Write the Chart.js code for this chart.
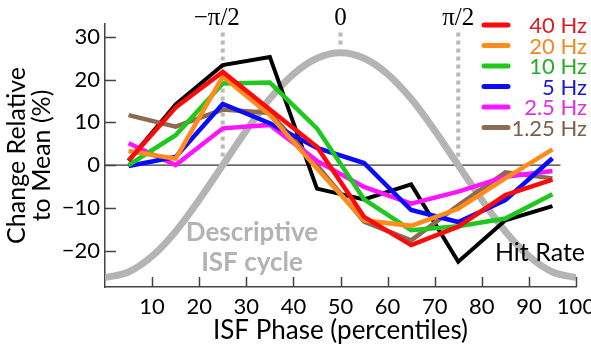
<!DOCTYPE html>
<html>
<head>
<meta charset="utf-8">
<script src="https://cdn.jsdelivr.net/npm/chart.js@4.4.1/dist/chart.umd.min.js"></script>
<style>
  html, body { margin: 0; padding: 0; background: #fff; }
  #wrap { width: 591px; height: 350px; position: relative; }
</style>
</head>
<body>
<div id="wrap"><canvas id="myChart"></canvas></div>
<script>
// ISF phase bins (percentiles)
const phase = [5, 15, 25, 35, 45, 55, 65, 75, 85, 95];

const freqLabels = ["40 Hz", "20 Hz", "10 Hz", "5 Hz", "2.5 Hz", "1.25 Hz"];
const hz40 = [1, 13.5, 21.8, 13, 4.3, -12.1, -18.7, -14.4, -7, -3.4];
const hz20 = [3.3, 1.5, 20.7, 11.7, -0.8, -12.9, -14.2, -10.2, -3.1, 3.7];
const hz10 = [0, 7, 19.1, 19.3, 8.6, -8, -15.2, -14.3, -12.5, -6.8];
const hz5 = [-0.2, 1.9, 14.3, 9.8, 4, 0.5, -10.5, -13.3, -8.2, 1.6];
const hz2_5 = [5.1, 0, 8.6, 9.4, 1, -5.1, -9, -6.2, -2.7, -1.4];
const hz1_25 = [11.7, 9, 13, 12.2, 0, -13.2, -17.6, -9.4, -1.7, -3.1];
const hitRate = [1, 14.2, 23.4, 25.3, -5.5, -8, -4.5, -22.6, -12.9, -9.6];

// descriptive ISF cycle (grey curve)
const cyclePhase = [0, 5, 10, 15, 20, 25, 30, 35, 40, 45, 50, 55, 60, 65, 70, 75, 80, 85, 90, 95, 100];
const cycleValues = [-26.3, -25, -21.3, -15.5, -8.1, 0, 8.1, 15.5, 21.3, 25, 26.3, 25, 21.3, 15.5, 8.1, 0, -8.1, -15.5, -21.3, -25, -26.3];

const xTicks = [10, 20, 30, 40, 50, 60, 70, 80, 90, 100];
const yTicks = [-20, -10, 0, 10, 20, 30];
const phaseMarks = [25, 50, 75];
const phaseLabels = ["\u2212\u03c0/2", "0", "\u03c0/2"];

const lineColors = ["#ff0a0a", "#ff8c1a", "#1ec81e", "#0a0aff", "#ff14ff", "#8c6b50"];
const textColors = ["#de1a20", "#f08a22", "#26ad26", "#1a1ac8", "#e030e0", "#7d604b"];

const SANS = "Lato, 'Open Sans', sans-serif";

function pts(ys, xs) {
  return ys.map((y, i) => ({ x: xs[i], y: y }));
}

const freqSeries = [hz40, hz20, hz10, hz5, hz2_5, hz1_25];
const datasets = freqSeries.map((s, i) => ({
  label: freqLabels[i],
  data: pts(s, phase),
  borderColor: lineColors[i],
  borderWidth: 4.5,
  pointRadius: 0,
  tension: 0,
}));
datasets.push({
  label: "Hit Rate",
  data: pts(hitRate, phase),
  borderColor: "#000000",
  borderWidth: 4,
  pointRadius: 0,
  tension: 0,
});
datasets.push({
  label: "Descriptive ISF cycle",
  data: pts(cycleValues, cyclePhase),
  borderColor: "#b4b4b4",
  borderWidth: 7,
  pointRadius: 0,
  cubicInterpolationMode: "monotone",
});

const decor = {
  id: "decor",
  beforeDatasetsDraw(chart) {
    const { ctx, scales: { x, y } } = chart;
    ctx.save();
    // dotted phase markers
    ctx.strokeStyle = "#b9b9b9";
    ctx.lineWidth = 4;
    ctx.setLineDash([4, 4]);
    phaseMarks.forEach((p) => {
      const v = cycleValues[cyclePhase.indexOf(p)];
      ctx.beginPath();
      ctx.moveTo(x.getPixelForValue(p), y.getPixelForValue(31));
      ctx.lineTo(x.getPixelForValue(p), y.getPixelForValue(v) - 4);
      ctx.stroke();
    });
    ctx.setLineDash([]);
    // zero line
    ctx.strokeStyle = "#333";
    ctx.lineWidth = 1.2;
    ctx.beginPath();
    ctx.moveTo(x.getPixelForValue(0), y.getPixelForValue(0));
    ctx.lineTo(x.getPixelForValue(96.7), y.getPixelForValue(0));
    ctx.stroke();
    // phase labels
    ctx.fillStyle = "#000";
    ctx.font = "25px 'Liberation Serif', serif";
    ctx.textAlign = "center";
    ctx.textBaseline = "alphabetic";
    phaseMarks.forEach((p, i) => {
      const dx = i === 0 ? -6 : 0;
      ctx.fillText(phaseLabels[i], x.getPixelForValue(p) + dx, 25);
    });
    ctx.restore();
  },
  afterDatasetsDraw(chart) {
    const { ctx, scales: { x, y } } = chart;
    ctx.save();
    // inward tick marks
    ctx.strokeStyle = "#444";
    ctx.lineWidth = 1.5;
    ctx.beginPath();
    xTicks.forEach((t) => {
      const px = Math.round(x.getPixelForValue(t)) + 0.5;
      ctx.moveTo(px, y.bottom);
      ctx.lineTo(px, y.bottom - 10);
    });
    yTicks.forEach((t) => {
      const py = Math.round(y.getPixelForValue(t)) + 0.5;
      ctx.moveTo(x.left, py);
      ctx.lineTo(x.left + 11, py);
    });
    ctx.stroke();

    // legend
    ctx.font = "22px " + SANS;
    ctx.textAlign = "right";
    ctx.textBaseline = "middle";
    freqLabels.forEach((lab, i) => {
      const yy = 25 + i * 20.5;
      ctx.strokeStyle = lineColors[i];
      ctx.lineWidth = 5;
      ctx.lineCap = "round";
      ctx.beginPath();
      ctx.moveTo(484, yy);
      ctx.lineTo(508, yy);
      ctx.stroke();
      ctx.fillStyle = textColors[i];
      ctx.fillText(lab, 587, yy + 1);
    });

    // annotations
    ctx.textBaseline = "alphabetic";
    ctx.fillStyle = "#000";
    ctx.font = "25px " + SANS;
    ctx.fillText("Hit Rate", 585, 261);
    ctx.fillStyle = "#b3b3b3";
    ctx.font = "bold 26px " + SANS;
    ctx.textAlign = "center";
    ctx.fillText("Descriptive", 252, 241);
    ctx.fillText("ISF cycle", 252, 271);
    ctx.restore();
  },
};

const chart = new Chart(document.getElementById("myChart"), {
  type: "line",
  data: { datasets: datasets },
  plugins: [decor],
  options: {
    responsive: true,
    maintainAspectRatio: false,
    animation: false,
    events: [],
    layout: { padding: { top: 24, right: 15, left: 0, bottom: 0 } },
    plugins: {
      legend: { display: false },
      tooltip: { enabled: false },
    },
    scales: {
      x: {
        type: "linear",
        min: 0,
        max: 100,
        grid: { display: false, drawTicks: false },
        border: { display: true, color: "#444", width: 1.5 },
        afterBuildTicks: (scale) => {
          scale.ticks = xTicks.map((v) => ({ value: v }));
        },
        afterFit: (scale) => {
          scale.height = 63;
          scale.paddingLeft = 0;
          scale.paddingRight = 0;
        },
        ticks: {
          padding: 7,
          maxRotation: 0,
          autoSkip: false,
          color: "#000",
          font: { family: SANS, size: 22 },
        },
        title: {
          display: true,
          text: "ISF Phase (percentiles)",
          color: "#000",
          padding: { top: 0, bottom: 6 },
          font: { family: SANS, size: 26, lineHeight: 1 },
        },
      },
      y: {
        type: "linear",
        min: -28.5,
        max: 33,
        grid: { display: false, drawTicks: false },
        border: { display: true, color: "#444", width: 1.5 },
        afterBuildTicks: (scale) => {
          scale.ticks = yTicks.map((v) => ({ value: v }));
        },
        afterFit: (scale) => {
          scale.width = 105;
          scale.paddingTop = 0;
          scale.paddingBottom = 0;
        },
        ticks: {
          padding: 5,
          color: "#000",
          font: { family: SANS, size: 22 },
          callback: (v) => (v < 0 ? "\u2212" + Math.abs(v) : String(v)),
        },
        title: {
          display: true,
          text: ["Change Relative", "to Mean (%)"],
          color: "#000",
          padding: { top: 4, bottom: 0 },
          font: { family: SANS, size: 25, lineHeight: 1 },
        },
      },
    },
  },
});
</script>
</body>
</html>
